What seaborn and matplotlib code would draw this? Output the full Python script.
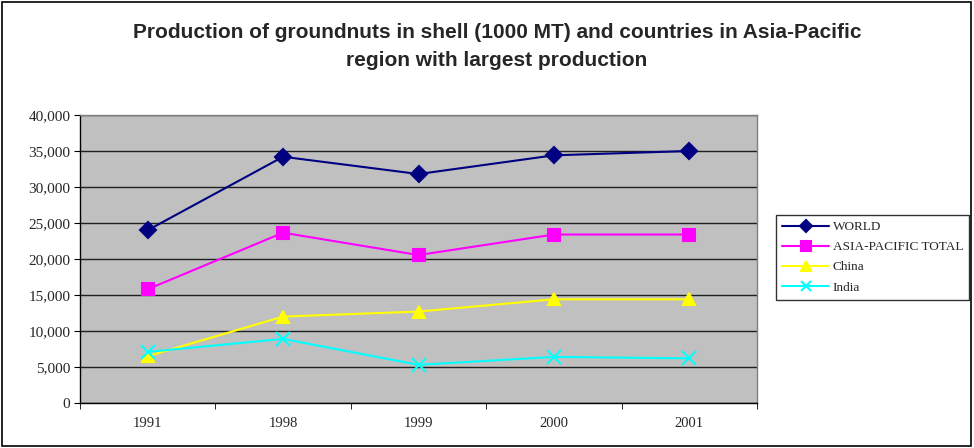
import matplotlib
matplotlib.use("Agg")
import matplotlib.pyplot as plt
import seaborn as sns
import pandas as pd
from matplotlib.patches import Rectangle

years = ['1991', '1998', '1999', '2000', '2001']
world = [24000, 34200, 31800, 34400, 35000]
asia_pacific = [15800, 23650, 20550, 23400, 23400]
china = [6500, 12000, 12700, 14400, 14400]
india = [7100, 8900, 5300, 6400, 6200]

series_names = ['WORLD', 'ASIA-PACIFIC TOTAL', 'China', 'India']
series_vals = [world, asia_pacific, china, india]
colors = ['#000080', '#FF00FF', '#FFFF00', '#00FFFF']
markers = ['D', 's', '^', 'x']

rows = []
for name, vals in zip(series_names, series_vals):
    for i, v in enumerate(vals):
        rows.append({'pos': i, 'year': years[i], 'value': v, 'series': name})
df = pd.DataFrame(rows)

sns.set_style('white')
plt.rcParams['font.family'] = ['Liberation Serif', 'DejaVu Serif']

fig = plt.figure(figsize=(9.74, 4.48), dpi=100)
ax = fig.add_axes([80 / 974, 1 - 403 / 448, 677 / 974, 288 / 448])
ax.set_facecolor('#C0C0C0')

sizes = {'D': 8, 's': 9, '^': 9, 'x': 10}
for name, c, m in zip(series_names, colors, markers):
    sub = df[df['series'] == name]
    sns.lineplot(data=sub, x='pos', y='value', ax=ax, color=c, marker=m,
                 markersize=sizes[m], markeredgecolor=c,
                 markeredgewidth=1.5, linewidth=1.5, label=name)

ax.set_xlim(-0.5, 4.5)
ax.set_ylim(0, 40000)
ax.set_yticks(range(0, 40001, 5000))
ax.set_yticklabels([f'{v:,}' for v in range(0, 40001, 5000)], fontsize=11)
ax.set_xticks(range(5))
ax.set_xticklabels(years, fontsize=10.5)
ax.set_xticks([i - 0.5 for i in range(6)], minor=True)
ax.tick_params(axis='x', which='major', length=0, pad=10)
ax.tick_params(axis='x', which='minor', length=4, direction='out', color='black', bottom=True)
ax.tick_params(axis='y', length=4, direction='out', color='black', left=True, pad=3)
ax.set_xlabel('')
ax.set_ylabel('')
ax.grid(axis='y', color='#202020', linewidth=1)
ax.set_axisbelow(True)
for side in ['top', 'right']:
    ax.spines[side].set_color('#808080')
    ax.spines[side].set_linewidth(1)
for side in ['left', 'bottom']:
    ax.spines[side].set_color('black')
    ax.spines[side].set_linewidth(1)

leg = ax.legend(loc='upper left', bbox_to_anchor=(776 / 974, 1 - 215 / 448),
                bbox_transform=fig.transFigure, frameon=True, fancybox=False,
                fontsize=9.5, borderaxespad=0, handlelength=3.6, handletextpad=0.25,
                labelspacing=0.6, borderpad=0.45, markerscale=0.75)
leg.get_frame().set_edgecolor('black')
leg.get_frame().set_linewidth(1)

fig.text(497 / 974, 1 - 33 / 448,
         'Production of groundnuts in shell (1000 MT) and countries in Asia-Pacific',
         ha='center', va='center', fontsize=15, fontweight='bold',
         family=['Liberation Sans', 'DejaVu Sans'])
fig.text(497 / 974, 1 - 60 / 448, 'region with largest production',
         ha='center', va='center', fontsize=15, fontweight='bold',
         family=['Liberation Sans', 'DejaVu Sans'])

fig.patches.append(Rectangle((2 / 974, 2 / 448), 969 / 974, 444 / 448,
                             transform=fig.transFigure, fill=False,
                             edgecolor='black', linewidth=1.2))

fig.savefig('out.png', dpi=100)
